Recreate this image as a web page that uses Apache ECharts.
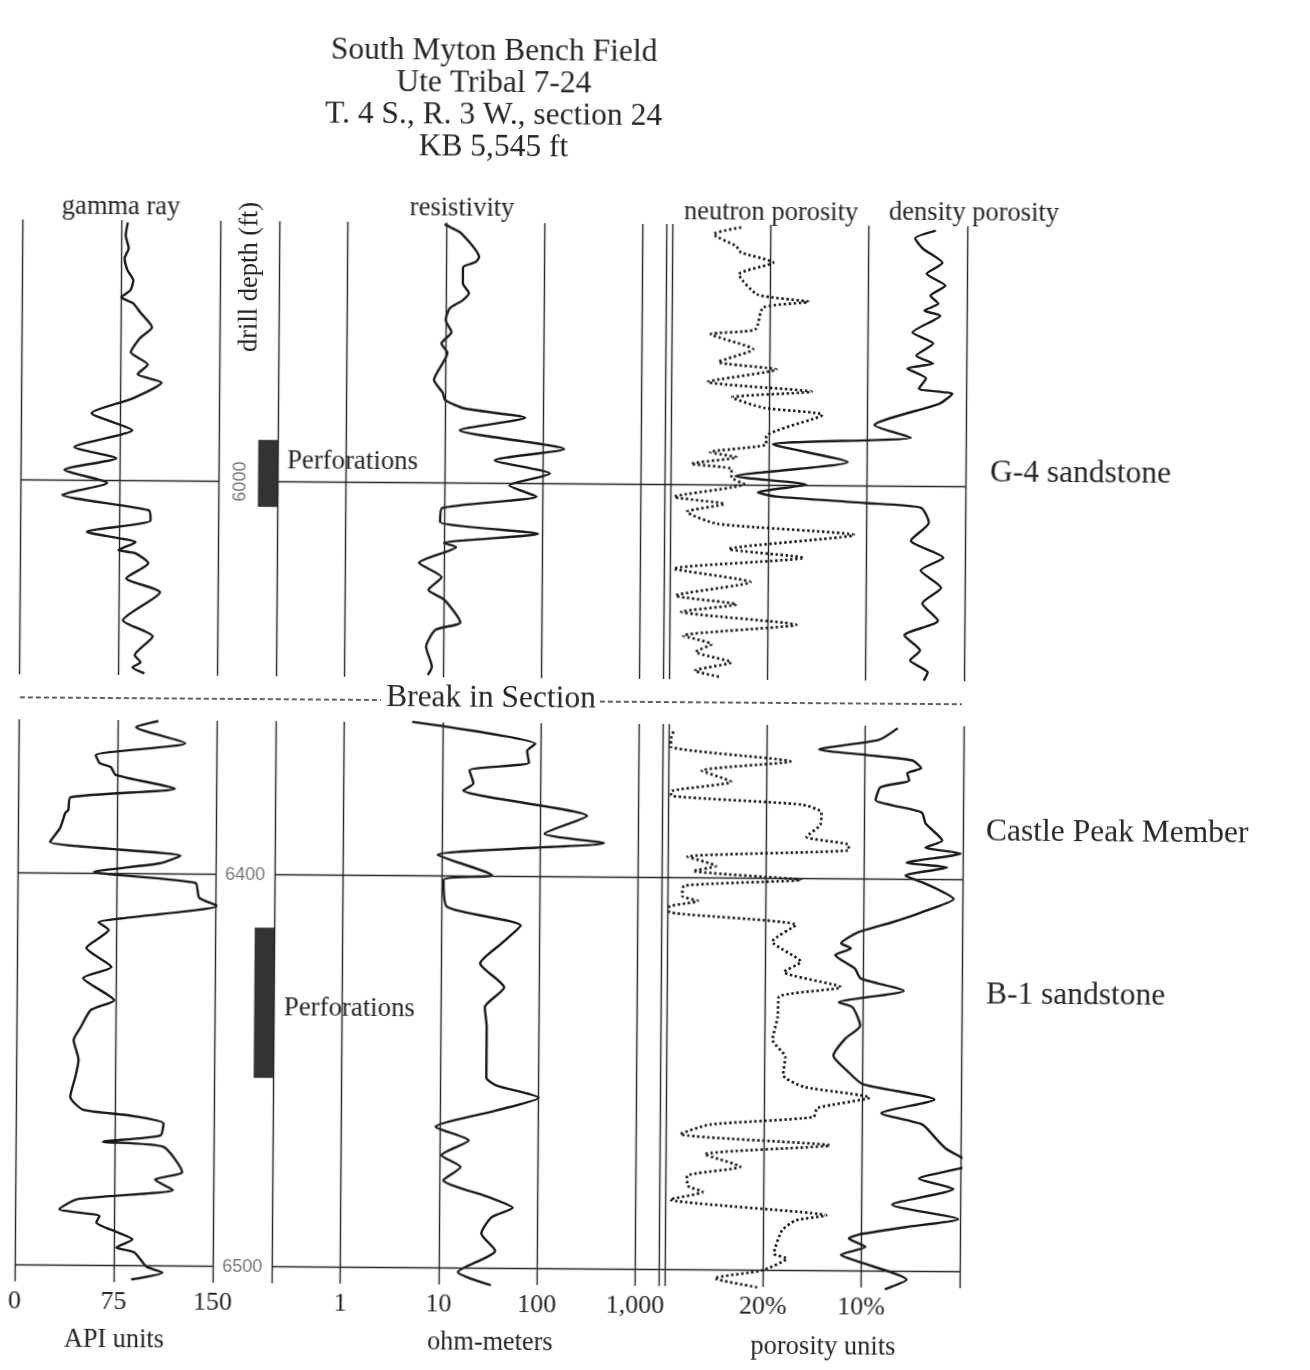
<!DOCTYPE html>
<html>
<head>
<meta charset="utf-8">
<script src="https://cdn.jsdelivr.net/npm/echarts@6/dist/echarts.min.js"></script>
<style>
html,body{margin:0;padding:0;background:#fff;}
#c{width:1310px;height:1370px;background:#fff;transform:rotate(0.42deg);transform-origin:655px 685px;}
</style>
</head>
<body>
<div id="c"></div>
<script>
// ---------------- DATA (value, drill depth ft) ----------------
const TITLE_LINES = ['South Myton Bench Field', 'Ute Tribal 7-24', 'T. 4 S., R. 3 W., section 24', 'KB 5,545 ft'];

const GR_TICKS = [0, 75, 150];
const GR_TICK_LABELS = ['0', '75', '150'];
const RES_TICKS = [1, 10, 100, 1000];
const RES_TICK_LABELS = ['1', '10', '100', '1,000'];
const POR_TICKS = [20, 10];
const POR_TICK_LABELS = ['20%', '10%'];

const DEPTH_LINES_UPPER = [6000];
const DEPTH_LINES_LOWER = [6400, 6500];
const PERF_UPPER = [5989.3, 6006.4];
const PERF_LOWER = [6413.5, 6451.8];

// gamma ray (API units)
const GR_UPPER = [[79.9,5934.1],[78.4,5937.4],[80.7,5940.7],[77.7,5943.2],[79.9,5946.3],[84.4,5948.9],[82.2,5951.4],[75.4,5953.2],[84.4,5954.7],[89.7,5957.0],[98.8,5960.8],[89.7,5963.6],[82.9,5967.2],[95.8,5970.3],[88.2,5972.8],[106.3,5974.9],[84.4,5979.0],[53.5,5982.8],[84.4,5987.1],[40.7,5991.5],[72.4,5994.3],[33.2,5997.3],[65.6,6000.6],[31.7,6003.7],[97.3,6007.5],[98.8,6010.1],[50.5,6013.1],[87.5,6015.7],[74.6,6017.7],[87.5,6018.5],[97.3,6021.0],[80.7,6024.9],[106.3,6028.4],[78.4,6035.6],[101.0,6039.7],[87.5,6044.5],[92.0,6046.3],[85.9,6047.6],[95.0,6049.1]];
const GR_LOWER = [[105.8,6361.0],[89.0,6362.6],[126.3,6366.6],[58.6,6369.8],[61.6,6371.8],[70.0,6372.8],[73.8,6374.8],[118.7,6378.2],[39.6,6380.6],[38.1,6383.8],[35.8,6384.6],[32.0,6388.4],[24.4,6392.0],[123.3,6395.3],[107.3,6397.3],[57.8,6399.6],[134.7,6402.2],[137.7,6406.0],[151.4,6408.0],[79.1,6411.4],[61.6,6412.4],[69.3,6414.4],[52.5,6419.0],[71.5,6423.8],[50.2,6426.7],[73.8,6432.3],[56.3,6434.8],[48.7,6439.2],[43.4,6442.5],[47.2,6447.6],[44.9,6451.9],[41.1,6457.0],[51.0,6460.3],[84.5,6461.6],[111.9,6463.6],[109.6,6466.7],[66.2,6468.4],[111.9,6469.6],[126.3,6476.0],[105.8,6478.0],[119.5,6480.6],[47.2,6483.1],[33.5,6485.7],[63.9,6487.4],[61.6,6489.0],[77.6,6491.5],[89.0,6493.3],[76.9,6495.4],[90.6,6496.6],[99.7,6500.2],[111.9,6501.7],[88.3,6503.5]];

// resistivity (ohm-meters)
const RES_UPPER = [[9.6,5934.0],[11.0,5934.7],[14.2,5936.2],[21.7,5942.3],[19.8,5943.6],[14.9,5944.9],[14.9,5949.0],[17.2,5951.5],[14.9,5953.3],[11.0,5955.4],[10.0,5958.4],[11.5,5961.5],[9.1,5964.4],[10.5,5966.8],[7.7,5973.7],[9.5,5977.0],[10.0,5978.8],[15.6,5980.9],[65.5,5983.2],[14.2,5986.5],[164,5991.1],[32.4,5994.1],[118,5997.4],[46,6000.5],[87,6003.3],[9.5,6006.4],[9.1,6009.9],[91,6012.8],[10.0,6015.3],[13.3,6016.3],[5.6,6020.4],[9.5,6024.0],[7.0,6027.3],[10.2,6029.8],[14.9,6035.5],[8.3,6037.5],[6.7,6041.8],[7.7,6046.9],[7.0,6049.0]];
const RES_LOWER = [[4.9,6360.7],[88,6366.1],[72.8,6367.9],[76.2,6370.9],[18.9,6373.0],[20.8,6376.3],[16.4,6378.1],[300,6384.4],[111,6389.0],[448,6391.3],[9.1,6394.6],[32.6,6399.7],[10.5,6401.0],[11.5,6407.9],[64.5,6412.5],[41.2,6417.1],[25.1,6422.2],[44.3,6428.3],[28.2,6433.4],[29.6,6438.5],[29.6,6451.3],[37.5,6453.3],[101,6456.4],[37.5,6459.7],[9.1,6464.0],[19.8,6467.4],[10.5,6471.2],[16.4,6474.2],[11.0,6477.6],[32.6,6481.9],[56.1,6484.5],[34.1,6487.0],[27.0,6491.1],[37.5,6495.5],[15.7,6501.0],[34.1,6504.3]];

// neutron porosity (%)
const NPHI_UPPER = [[23.0,5934.2],[25.8,5936.0],[23.5,5939.0],[23.0,5940.6],[19.7,5943.1],[23.2,5946.2],[21.3,5951.3],[16.1,5953.1],[20.7,5954.6],[21.5,5960.2],[26.0,5961.5],[21.7,5965.3],[25.2,5968.6],[19.3,5970.4],[26.3,5973.7],[15.7,5976.0],[23.8,5977.6],[20.6,5980.2],[14.6,5981.9],[20.3,5987.5],[20.3,5989.5],[26.0,5991.6],[23.3,5992.9],[27.9,5994.6],[23.8,5995.9],[23.8,5998.0],[22.5,5999.7],[29.6,6003.1],[24.5,6004.8],[28.3,6006.9],[25.2,6009.9],[11.3,6012.5],[24.0,6016.3],[16.4,6018.4],[29.6,6021.4],[21.8,6024.7],[29.4,6028.3],[23.2,6030.4],[28.8,6032.4],[17.1,6035.5],[28.6,6038.5],[25.7,6040.6],[27.3,6042.6],[23.7,6045.2],[27.4,6047.4],[24.7,6049.0]];
const NPHI_LOWER = [[29.5,6362.7],[29.7,6363.9],[29.8,6366.5],[17.6,6370.1],[26.6,6372.6],[23.6,6375.4],[29.7,6378.0],[29.7,6379.0],[16.4,6381.1],[14.4,6383.1],[14.5,6386.2],[15.9,6389.3],[11.6,6391.3],[11.6,6392.6],[28.0,6394.6],[25.1,6396.9],[27.4,6398.2],[16.4,6400.3],[28.3,6402.0],[28.5,6404.6],[26.9,6405.9],[29.8,6407.4],[29.8,6408.7],[16.9,6411.8],[19.3,6416.1],[16.4,6421.2],[18.1,6423.8],[12.3,6427.6],[18.6,6430.2],[18.7,6435.3],[19.2,6441.2],[17.9,6445.5],[18.1,6450.1],[16.0,6453.1],[9.3,6455.7],[14.6,6458.5],[15.0,6460.8],[25.5,6462.9],[28.5,6465.4],[13.3,6468.0],[26.0,6470.5],[22.4,6473.6],[27.8,6476.1],[27.7,6478.6],[26.2,6480.1],[29.5,6482.1],[13.6,6485.9],[16.7,6487.2],[18.1,6489.8],[18.9,6495.7],[17.6,6496.9],[20.1,6500.0],[24.9,6502.1],[20.4,6504.4]];

// density porosity (%)
const DPHI_UPPER = [[3.2,5934.7],[5.3,5936.7],[4.5,5939.3],[2.5,5942.9],[4.1,5945.7],[2.2,5948.7],[3.7,5951.3],[2.9,5953.3],[4.3,5955.1],[2.7,5956.4],[5.5,5960.7],[3.4,5963.5],[5.1,5966.6],[3.4,5968.6],[6.0,5969.9],[4.1,5972.4],[4.8,5975.0],[1.4,5976.3],[2.7,5978.8],[9.3,5984.4],[5.6,5987.5],[19.6,5989.5],[12.0,5993.9],[23.4,5997.7],[16.2,5999.7],[21.1,6001.8],[19.3,6002.8],[10.2,6004.3],[4.5,6005.4],[3.7,6009.2],[5.5,6013.8],[2.2,6018.1],[4.5,6021.4],[2.4,6025.8],[4.3,6029.8],[2.7,6034.2],[6.1,6038.0],[4.5,6041.8],[5.5,6044.4],[3.7,6047.4],[4.1,6049.5]];
const DPHI_LOWER = [[6.7,6361.4],[8.6,6364.4],[14.7,6367.0],[9.9,6368.3],[5.2,6369.6],[4.3,6371.6],[5.7,6372.9],[5.5,6374.7],[8.4,6376.5],[8.9,6379.8],[7.2,6381.1],[4.2,6382.9],[3.8,6385.7],[2.1,6390.0],[3.8,6391.8],[0.2,6393.3],[5.7,6395.7],[1.6,6396.9],[5.8,6399.0],[3.8,6401.0],[0.9,6404.9],[4.2,6408.4],[7.2,6411.0],[10.6,6413.6],[12.3,6416.4],[11.3,6417.7],[12.9,6419.4],[10.9,6422.8],[10.3,6425.3],[5.9,6428.4],[12.5,6431.5],[11.1,6432.7],[10.3,6437.4],[11.8,6440.7],[13.0,6445.1],[11.6,6448.9],[10.0,6452.3],[2.7,6456.1],[8.1,6459.7],[3.9,6462.5],[2.5,6466.1],[1.5,6468.6],[-1.1,6472.5],[4.2,6476.3],[0.7,6478.9],[6.9,6483.0],[0.2,6486.6],[5.5,6488.7],[10.3,6490.7],[11.3,6491.7],[9.6,6493.8],[12.1,6495.9],[10.3,6497.6],[5.4,6502.1],[7.6,6504.6]];

// ---------------- STYLE / LAYOUT ----------------
const LINE = '#262626';
const CURVE = '#1a1a1a';
const TEXT = '#262626';
const SERIF = '"Liberation Serif", "Times New Roman", serif';
const SANS = '"Liberation Sans", Arial, sans-serif';

const SECTIONS = [
  {top: 224, height: 455, min: 5933.5, max: 6049.6, gr: GR_UPPER, res: RES_UPPER, nphi: NPHI_UPPER, dphi: DPHI_UPPER, lines: DEPTH_LINES_UPPER, perf: PERF_UPPER, depthLabelX: 0.37, depthLabelRot: 90},
  {top: 724, height: 562, min: 6360.8, max: 6504.2, gr: GR_LOWER, res: RES_LOWER, nphi: NPHI_LOWER, dphi: DPHI_LOWER, lines: DEPTH_LINES_LOWER, perf: PERF_LOWER, depthLabelX: 0.5, depthLabelRot: 0}
];
const TRACKS = [
  {left: 19, width: 198},   // gamma ray
  {left: 217, width: 59},   // depth track
  {left: 276, width: 393},  // resistivity (log 0.2 - 2000)
  {left: 669, width: 295}   // porosity (30 - 0)
];
const RES_MIN = 0.2, RES_MAX = 2000, RES_EDGE = 1750;

const grid = [], xAxis = [], yAxis = [], series = [];
const gridLine = {color: LINE, width: 1.4};

SECTIONS.forEach((s, si) => {
  const b = si * 4;
  TRACKS.forEach(t => grid.push({left: t.left, top: s.top, width: t.width, height: s.height, containLabel: false}));
  xAxis.push({gridIndex: b, type: 'value', min: 0, max: 150, interval: 75,
    axisLine: {show: false}, axisTick: {show: false}, axisLabel: {show: false},
    splitLine: {show: true, lineStyle: gridLine}});
  xAxis.push({gridIndex: b + 1, type: 'value', min: 0, max: 1, show: false});
  xAxis.push({gridIndex: b + 2, type: 'log', logBase: 10, min: RES_MIN, max: RES_MAX, show: false});
  xAxis.push({gridIndex: b + 3, type: 'value', min: 0, max: 30, interval: 10, inverse: true,
    axisLine: {show: false}, axisTick: {show: false}, axisLabel: {show: false},
    splitLine: {show: true, lineStyle: gridLine}});
  for (let k = 0; k < 4; k++) {
    yAxis.push({gridIndex: b + k, type: 'value', inverse: true, min: s.min, max: s.max, show: false});
  }
  const hl = s.lines.map(d => ({yAxis: d}));
  const ml = extra => ({silent: true, symbol: ['none', 'none'], label: {show: false},
    lineStyle: {color: LINE, width: 1.4, type: 'solid'}, emphasis: {disabled: true},
    animation: false, data: hl.concat(extra || [])});
  const curve = (data, idx, dotted, markLine) => ({
    type: 'line', xAxisIndex: idx, yAxisIndex: idx, data: data,
    symbol: 'none', showSymbol: false, smooth: 0.2, clip: false, animation: false, silent: true,
    lineStyle: dotted ? {color: CURVE, width: 2.7, type: [2.4, 2.6]} : {color: CURVE, width: 2.4, type: 'solid'},
    z: 3, markLine: markLine
  });
  series.push(curve(s.gr, b, false, ml()));
  series.push({
    type: 'scatter', xAxisIndex: b + 1, yAxisIndex: b + 1, symbolSize: 1, silent: true, animation: false,
    itemStyle: {color: 'rgba(0,0,0,0)'},
    data: s.lines.map(d => [s.depthLabelX, d]),
    label: {show: true, position: 'inside', rotate: s.depthLabelRot,
      formatter: p => String(p.value[1]), fontFamily: SANS, fontSize: 18, color: '#555'},
    markArea: {silent: true, itemStyle: {color: '#333333'},
      data: [[{xAxis: 0.67, yAxis: s.perf[0]}, {xAxis: 1, yAxis: s.perf[1]}]]}
  });
  series.push(curve(s.res, b + 2, false,
    ml([RES_MIN].concat(RES_TICKS, [RES_EDGE]).map(v => ({xAxis: v})))));
  series.push(curve(s.nphi, b + 3, true, ml()));
  series.push(curve(s.dphi, b + 3, false));
});

const chart = echarts.init(document.getElementById('c'), null, {renderer: 'canvas', width: 1310, height: 1370});
chart.setOption({animation: false, backgroundColor: '#fff', grid, xAxis, yAxis, series});

// ---------------- TEXT ----------------
const txt = (text, x, y, size, align, extra) => Object.assign({
  type: 'text', x: x, y: y, silent: true, z: 10,
  style: {text: text, fill: TEXT, font: size + 'px ' + SERIF, textAlign: align || 'center', textVerticalAlign: 'middle'}
}, extra || {});

const g = [];
TITLE_LINES.forEach((t, i) => g.push(txt(t, 489.5, 53 + i * 32, 31.5)));
g.push(txt('gamma ray', 117.6, 210.8, 26.5));
g.push(txt('drill depth (ft)', 247.1, 279.9, 26.5, 'center', {rotation: Math.PI / 2}));
g.push(txt('resistivity', 458.6, 210.4, 26.5));
g.push(txt('neutron porosity', 767.6, 212.2, 26.5));
g.push(txt('density porosity', 970.6, 210.7, 26.5));
g.push(txt('Perforations', 285.4, 463.6, 26.8, 'left'));
g.push(txt('Perforations', 286.3, 1010.7, 26.8, 'left'));
g.push(txt('G-4 sandstone', 988.5, 470.6, 31.5, 'left'));
g.push(txt('Castle Peak Member', 987.1, 829.6, 31.5, 'left'));
g.push(txt('B-1 sandstone', 988.2, 992.6, 31.5, 'left'));
g.push(txt('Break in Section', 491.1, 700.2, 31.5));
const dash = {stroke: '#2e2e2e', lineWidth: 1.3, lineDash: [5, 3]};
g.push({type: 'line', silent: true, shape: {x1: 20, y1: 702, x2: 381, y2: 702}, style: dash});
g.push({type: 'line', silent: true, shape: {x1: 600, y1: 702, x2: 962, y2: 702}, style: dash});
g.push(txt('API units', 118.7, 1343.9, 26.3));
g.push(txt('ohm-meters', 494.7, 1344.2, 26.3));
g.push(txt('porosity units', 827.8, 1345.8, 26.5));

// bottom tick labels placed through the lower section's scales
const low = SECTIONS[1];
const addTicks = (gi, vals, labels) => vals.forEach((v, i) => {
  const p = chart.convertToPixel({gridIndex: gi}, [v, low.max]);
  g.push(txt(labels[i], p[0], p[1] + 20, 26));
});
addTicks(4, GR_TICKS, GR_TICK_LABELS);
addTicks(6, RES_TICKS, RES_TICK_LABELS);
addTicks(7, POR_TICKS, POR_TICK_LABELS);

chart.setOption({graphic: {elements: g}});
</script>
</body>
</html>
